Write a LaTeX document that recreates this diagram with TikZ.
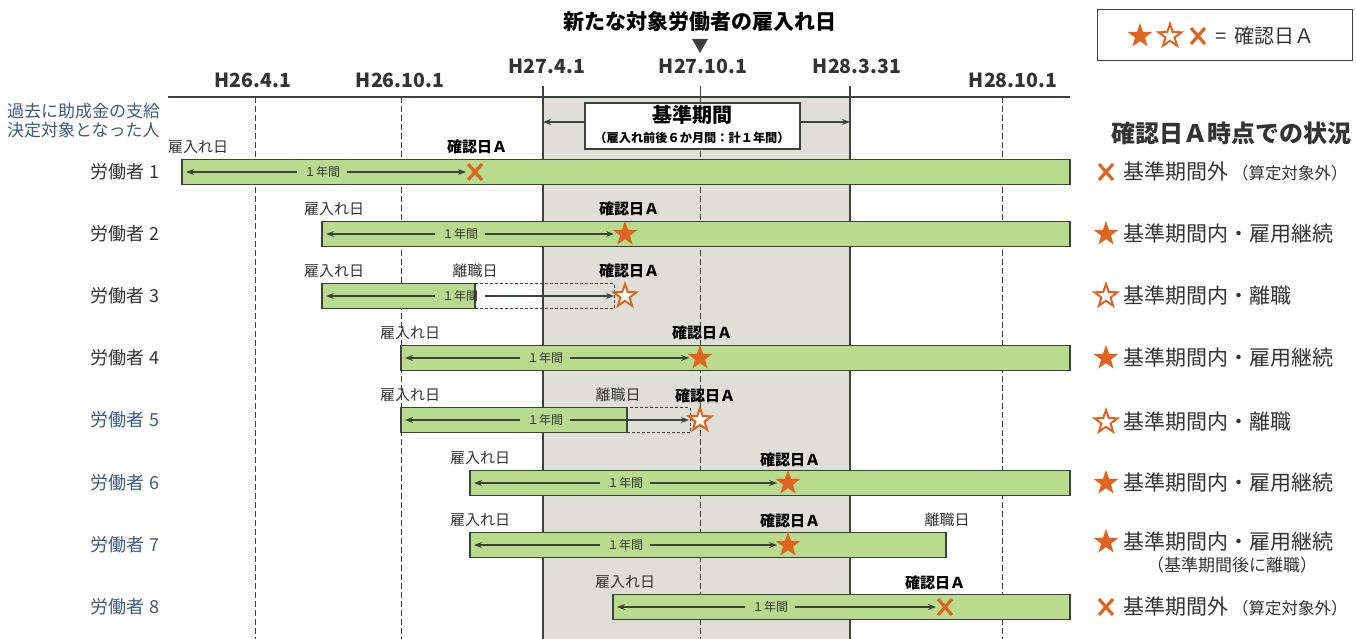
\documentclass[tikz,border=0pt]{standalone}
\usepackage{fontspec}
\setmainfont{Noto Sans CJK JP}
\usetikzlibrary{shapes.geometric,arrows.meta}
\definecolor{barg}{HTML}{B9DB8E}
\definecolor{bard}{HTML}{3A443A}
\definecolor{shadeg}{HTML}{DFDFD7}
\definecolor{org}{HTML}{E0631F}
\definecolor{txt}{HTML}{333333}
\definecolor{bluet}{HTML}{3D5A85}
\tikzset{
  datelbl/.style={font=\bfseries\fontsize{19.5}{19.5}\selectfont, text=txt},
  worker/.style={font=\fontsize{18}{18}\selectfont, text=txt},
  workerb/.style={font=\fontsize{18}{18}\selectfont, text=bluet},
  hire/.style={font=\fontsize{15}{15}\selectfont, text=txt},
  confirm/.style={font=\bfseries\fontsize{15}{15}\selectfont, text=black},
  yearlbl/.style={font=\fontsize{12}{12}\selectfont, text=txt, inner sep=7pt},
  status/.style={font=\fontsize{21}{21}\selectfont, text=txt, anchor=west},
  barbox/.style={fill=barg, draw=bard, line width=1.1pt},
  dashbox/.style={draw=bard, line width=0.9pt, densely dashed},
  spanarrow/.style={draw=bard, line width=1.2pt, -{Stealth[length=8pt,width=6pt]}},
  vdash/.style={draw=bard, line width=0.8pt, dash pattern=on 6pt off 3pt},
  fstar/.style={star, star points=5, star point ratio=2.5, minimum size=26pt, inner sep=0pt, fill=org},
  ostar/.style={star, star points=5, star point ratio=2.5, minimum size=24pt, inner sep=0pt, fill=white, draw=org, line width=2pt},
  xmark/.pic={\draw[org, line width=3.2pt] (-7,-8)--(7,8) (-7,8)--(7,-8);}
}
\begin{document}
\begin{tikzpicture}[x=1pt,y=-1pt]
\useasboundingbox (0,0) rectangle (1356,639);
% shaded standard period
\fill[shadeg] (543,97) rectangle (850,639);
% vertical lines
\draw[bard, line width=1.1pt] (543,86) -- (543,639);
\draw[bard, line width=1.1pt] (850,86) -- (850,639);
\draw[bard, line width=1pt] (700,86) -- (700,97);
\draw[vdash] (700,97) -- (700,639);
\draw[vdash] (255,97) -- (255,639);
\draw[vdash] (401,97) -- (401,639);
\draw[vdash] (1002,97) -- (1002,639);
\draw[bard, line width=1.1pt] (168,97) -- (1070,97);
% title
\node[font=\bfseries\fontsize{21}{21}\selectfont, text=black] (title) at (700,22) {新たな対象労働者の雇入れ日};
\fill[bard] (692,39) -- (708,39) -- (700,53) -- cycle;
% dates
\node[datelbl] (d1) at (253,80) {H26.4.1};
\node[datelbl] (d2) at (400,80) {H26.10.1};
\node[datelbl] (d3) at (547,66) {H27.4.1};
\node[datelbl] (d4) at (703,66) {H27.10.1};
\node[datelbl] (d5) at (857,66) {H28.3.31};
\node[datelbl] (d6) at (1013,80) {H28.10.1};
% standard period box
\node[draw=bard, fill=white, line width=1.2pt, minimum width=215pt, minimum height=46pt, inner sep=0pt] (kbox) at (692.5,126) {};
\node[font=\bfseries\fontsize{20}{20}\selectfont, text=black] (ktitle) at (692,115) {基準期間};
\node[font=\bfseries\fontsize{12.2}{12.2}\selectfont, text=black] (ksub) at (692,137.5) {（雇入れ前後６か月間：計１年間）};
\coordinate (kl) at (543,122);
\coordinate (kr) at (850,122);
\draw[spanarrow] (kbox.west |- kl) -- (kl);
\draw[spanarrow] (kbox.east |- kr) -- (kr);
% past recipients
\node[font=\fontsize{17}{19}\selectfont, text=bluet, align=left, anchor=west, inner sep=0pt] (past) at (7,121) {過去に助成金の支給\\決定対象となった人};
% legend
\node[draw=bard, line width=1pt, minimum width=255pt, minimum height=51pt, inner sep=0pt] (legend) at (1224.5,35.5) {};
\node[fstar] (lg1) at (1140,36) {};
\node[ostar] (lg2) at (1170,36) {};
\pic at (1198,36) {xmark};
\node[font=\fontsize{20}{20}\selectfont, text=txt, anchor=west] (lgt) at (1212,36) {=\hspace{0.4em}確認日Ａ};
\node[font=\bfseries\fontsize{24}{24}\selectfont, text=txt] (sithead) at (1231,133) {確認日Ａ時点での状況};
% worker labels
\node[worker] (w1) at (125,172) {労働者 1};
\node[worker] (w2) at (125,234) {労働者 2};
\node[worker] (w3) at (125,296) {労働者 3};
\node[worker] (w4) at (125,358) {労働者 4};
\node[workerb] (w5) at (125,420) {労働者 5};
\node[workerb] (w6) at (125,483) {労働者 6};
\node[workerb] (w7) at (125,545) {労働者 7};
\node[workerb] (w8) at (125,607) {労働者 8};
% ---- row 1
\draw[barbox] (182,159.5) rectangle (1070,184.5);
\node[hire] (h1) at (198,147) {雇入れ日};
\node[confirm] (c1) at (477,147) {確認日Ａ};
\node[yearlbl] (y1) at (322,172) {１年間};
\coordinate (a1l) at (186,172); \coordinate (a1r) at (466,172);
\draw[spanarrow] (y1.west) -- (a1l);
\draw[spanarrow] (y1.east) -- (a1r);
\pic at (475,172) {xmark};
% ---- row 2
\draw[barbox] (322,221.5) rectangle (1070,246.5);
\node[hire] (h2) at (334,209) {雇入れ日};
\node[confirm] (c2) at (629,209) {確認日Ａ};
\node[yearlbl] (y2) at (460,234) {１年間};
\coordinate (a2l) at (326,234); \coordinate (a2r) at (614,234);
\draw[spanarrow] (y2.west) -- (a2l);
\draw[spanarrow] (y2.east) -- (a2r);
\node[fstar] (s2) at (625,234) {};
% ---- row 3
\draw[barbox] (322,283.5) rectangle (475,308.5);
\draw[dashbox] (475,283.5) rectangle (614,308.5);
\node[hire] (h3) at (334,271) {雇入れ日};
\node[hire] (r3) at (475,271) {離職日};
\node[confirm] (c3) at (629,271) {確認日Ａ};
\node[yearlbl] (y3) at (460,296) {１年間};
\coordinate (a3l) at (326,296); \coordinate (a3r) at (614,296);
\draw[spanarrow] (y3.west) -- (a3l);
\draw[spanarrow] (y3.east) -- (a3r);
\node[ostar] (s3) at (625,296) {};
% ---- row 4
\draw[barbox] (401,345.5) rectangle (1070,370.5);
\node[hire] (h4) at (410,333) {雇入れ日};
\node[confirm] (c4) at (702,333) {確認日Ａ};
\node[yearlbl] (y4) at (545,358) {１年間};
\coordinate (a4l) at (405,358); \coordinate (a4r) at (689,358);
\draw[spanarrow] (y4.west) -- (a4l);
\draw[spanarrow] (y4.east) -- (a4r);
\node[fstar] (s4) at (700,358) {};
% ---- row 5
\draw[barbox] (401,407.5) rectangle (627,432.5);
\draw[dashbox] (627,407.5) rectangle (690,432.5);
\node[hire] (h5) at (410,395) {雇入れ日};
\node[hire] (r5) at (618,395) {離職日};
\node[confirm] (c5) at (705,396) {確認日Ａ};
\node[yearlbl] (y5) at (545,420) {１年間};
\coordinate (a5l) at (405,420); \coordinate (a5r) at (689,420);
\draw[spanarrow] (y5.west) -- (a5l);
\draw[spanarrow] (y5.east) -- (a5r);
\node[ostar] (s5) at (700,420) {};
% ---- row 6
\draw[barbox] (470,470.5) rectangle (1070,495.5);
\node[hire] (h6) at (480,458) {雇入れ日};
\node[confirm] (c6) at (790,460) {確認日Ａ};
\node[yearlbl] (y6) at (625,483) {１年間};
\coordinate (a6l) at (474,483); \coordinate (a6r) at (777,483);
\draw[spanarrow] (y6.west) -- (a6l);
\draw[spanarrow] (y6.east) -- (a6r);
\node[fstar] (s6) at (788,483) {};
% ---- row 7
\draw[barbox] (470,532.5) rectangle (946,557.5);
\node[hire] (h7) at (480,520) {雇入れ日};
\node[confirm] (c7) at (790,521) {確認日Ａ};
\node[hire] (r7) at (947,520) {離職日};
\node[yearlbl] (y7) at (625,545) {１年間};
\coordinate (a7l) at (474,545); \coordinate (a7r) at (777,545);
\draw[spanarrow] (y7.west) -- (a7l);
\draw[spanarrow] (y7.east) -- (a7r);
\node[fstar] (s7) at (788,545) {};
% ---- row 8
\draw[barbox] (613,594.5) rectangle (1070,619.5);
\node[hire] (h8) at (625,582) {雇入れ日};
\node[confirm] (c8) at (935,583) {確認日Ａ};
\node[yearlbl] (y8) at (770,607) {１年間};
\coordinate (a8l) at (617,607); \coordinate (a8r) at (936,607);
\draw[spanarrow] (y8.west) -- (a8l);
\draw[spanarrow] (y8.east) -- (a8r);
\pic at (945,607) {xmark};
% ---- status column
\pic at (1106,172) {xmark};
\node[status] (t1) at (1120,172) {基準期間外\,{\fontsize{16.5}{16.5}\selectfont（算定対象外）}};
\node[fstar] (m2) at (1106,234) {};
\node[status] (t2) at (1120,234) {基準期間内・雇用継続};
\node[ostar] (m3) at (1106,296) {};
\node[status] (t3) at (1120,296) {基準期間内・離職};
\node[fstar] (m4) at (1106,358) {};
\node[status] (t4) at (1120,358) {基準期間内・雇用継続};
\node[ostar] (m5) at (1106,422) {};
\node[status] (t5) at (1120,422) {基準期間内・離職};
\node[fstar] (m6) at (1106,483) {};
\node[status] (t6) at (1120,483) {基準期間内・雇用継続};
\node[fstar] (m7) at (1106,542) {};
\node[status] (t7) at (1120,542) {基準期間内・雇用継続};
\node[font=\fontsize{17}{17}\selectfont, text=txt] (t7b) at (1232,565) {（基準期間後に離職）};
\pic at (1106,607) {xmark};
\node[status] (t8) at (1120,607) {基準期間外\,{\fontsize{16.5}{16.5}\selectfont（算定対象外）}};
\end{tikzpicture}
\end{document}
